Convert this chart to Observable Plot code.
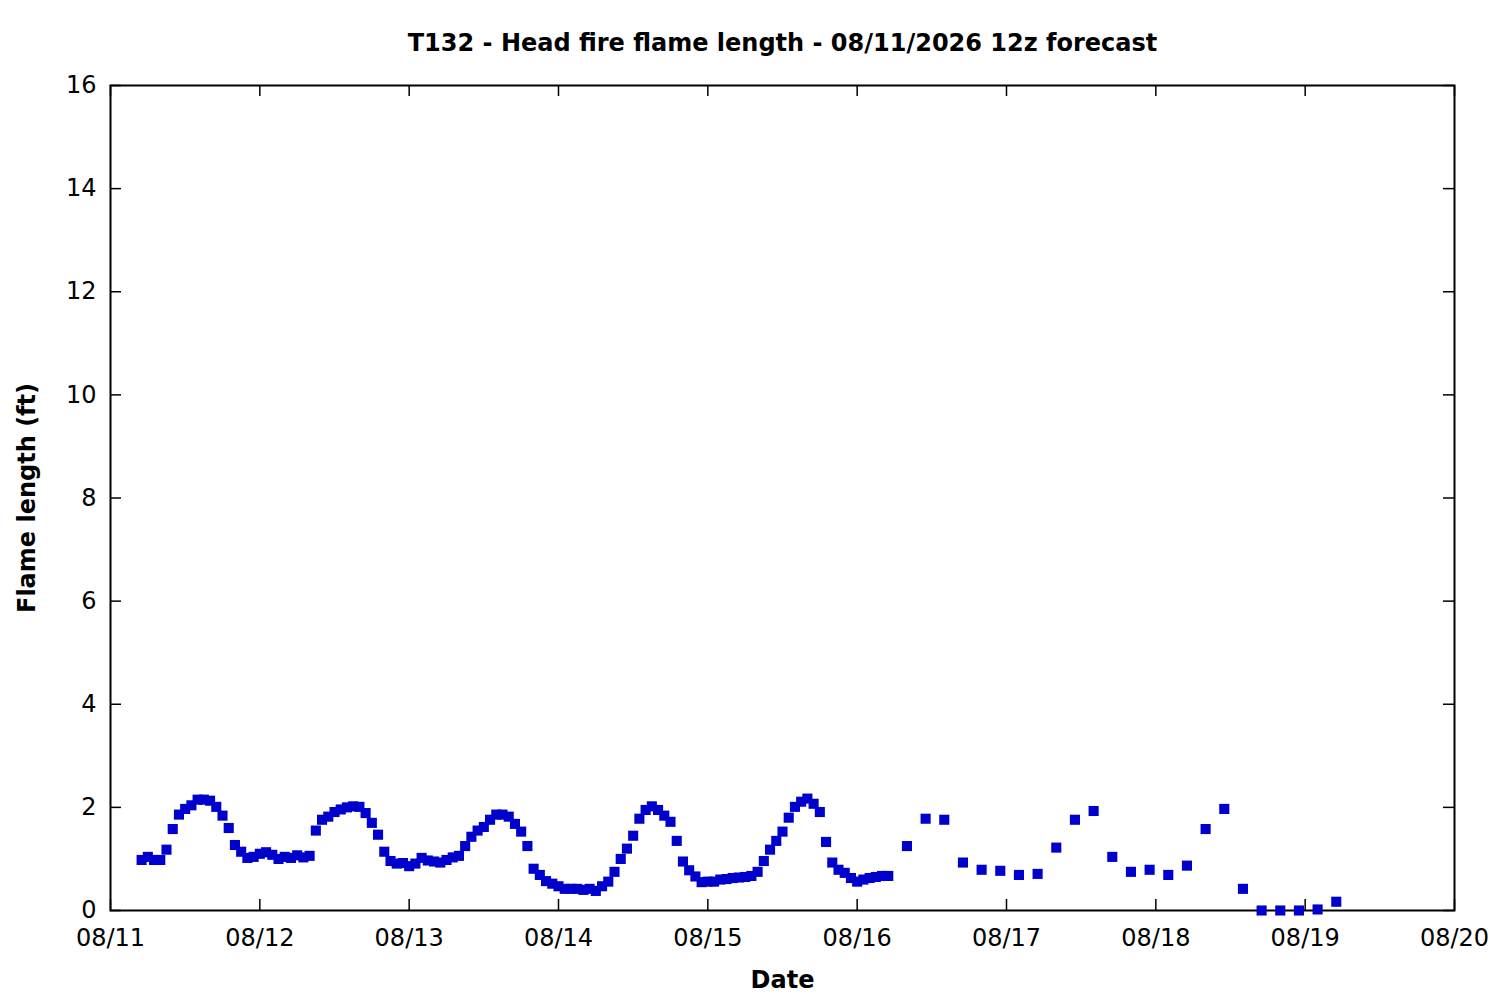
<!DOCTYPE html>
<html>
<head>
<meta charset="utf-8">
<script src="https://cdn.jsdelivr.net/npm/d3@7"></script>
<script src="https://cdn.jsdelivr.net/npm/@observablehq/plot@0.6"></script>
<style>
  html, body { margin: 0; padding: 0; background: #ffffff; }
  #chart svg { display: block; }
</style>
</head>
<body>
<div id="chart"></div>
<script>
// ---- Texts ----
const titleText = "T132 - Head fire flame length - 08/11/2026 12z forecast";
const xLabelText = "Date";
const yLabelText = "Flame length (ft)";

// ---- Time base (UTC) ----
const forecastStart = "2026-08-11T00:00:00Z";

// Hourly values, starting at hour 5 after forecastStart
const hourlyFirstHour = 5;
const hourlyValues = [
  0.98, 1.04, 0.98, 0.98, 1.18, 1.58, 1.86, 1.97, 2.04, 2.15,
  2.15, 2.13, 2.01, 1.84, 1.60, 1.27, 1.14, 1.02, 1.04, 1.10,
  1.13, 1.08, 1.00, 1.04, 1.02, 1.07, 1.03, 1.06, 1.55, 1.76,
  1.82, 1.91, 1.96, 2.00, 2.02, 2.01, 1.89, 1.70, 1.47, 1.14,
  0.96, 0.91, 0.92, 0.86, 0.91, 1.02, 0.97, 0.95, 0.93, 0.98,
  1.03, 1.06, 1.25, 1.43, 1.55, 1.62, 1.76, 1.86, 1.86, 1.82,
  1.68, 1.53, 1.25, 0.81, 0.69, 0.57, 0.52, 0.47, 0.42, 0.42,
  0.42, 0.40, 0.42, 0.38, 0.47, 0.56, 0.75, 1.00, 1.20, 1.45,
  1.78, 1.95, 2.02, 1.95, 1.84, 1.72, 1.35, 0.95, 0.78, 0.66,
  0.55, 0.56, 0.56, 0.60, 0.61, 0.63, 0.64, 0.65, 0.67, 0.75,
  0.96, 1.18, 1.35, 1.53, 1.80, 2.01, 2.11, 2.17, 2.07, 1.91,
  1.33, 0.93, 0.79, 0.73, 0.63, 0.56, 0.60, 0.63, 0.65, 0.67,
  0.67
];

// 3-hourly values, starting at hour 128 after forecastStart
const threeHourlyFirstHour = 128;
const threeHourlyValues = [
  1.25, 1.78, 1.76, 0.93, 0.79, 0.77, 0.69, 0.71,
  1.22, 1.76, 1.93, 1.04, 0.75, 0.79, 0.69, 0.87,
  1.58, 1.97, 0.42, 0.00, 0.00, 0.00, 0.02, 0.17
];

// ---- Axis ticks ----
const xTickDates = [
  "2026-08-11", "2026-08-12", "2026-08-13", "2026-08-14", "2026-08-15",
  "2026-08-16", "2026-08-17", "2026-08-18", "2026-08-19", "2026-08-20"
];
const yTickValues = [0, 2, 4, 6, 8, 10, 12, 14, 16];

// ---- Build table ----
const t0 = new Date(forecastStart).getTime();
const HOUR = 3600 * 1000;
const points = [];
hourlyValues.forEach((v, i) => points.push({ time: new Date(t0 + (hourlyFirstHour + i) * HOUR), value: v }));
threeHourlyValues.forEach((v, i) => points.push({ time: new Date(t0 + (threeHourlyFirstHour + 3 * i) * HOUR), value: v }));
const xTicks = xTickDates.map(s => new Date(s + "T00:00:00Z"));

// ---- Layout ----
const W = 1500, H = 1000;
const mL = 110, mR = 46, mT = 85, mB = 90;
const pw = W - mL - mR, ph = H - mT - mB;
const tickLen = 11;

const chart = Plot.plot({
  width: W,
  height: H,
  marginLeft: mL,
  marginRight: mR,
  marginTop: mT,
  marginBottom: mB,
  style: { fontFamily: "'DejaVu Sans', sans-serif", fontSize: "24px", color: "black", background: "white" },
  x: { type: "utc", domain: [xTicks[0], xTicks[xTicks.length - 1]] },
  y: { domain: [yTickValues[0], yTickValues[yTickValues.length - 1]] },
  marks: [
    Plot.axisX(xTicks, { anchor: "bottom", tickSize: 0, tickPadding: 18, tickFormat: d3.utcFormat("%m/%d"), fontSize: 24, fill: "black", label: null }),
    Plot.axisY(yTickValues, { anchor: "left", tickSize: 0, tickPadding: 14, tickFormat: d3.format("d"), fontSize: 24, fill: "black", label: null }),
    Plot.tickX(xTicks, { x: d => d, insetTop: ph - tickLen, stroke: "black", strokeWidth: 1.5 }),
    Plot.tickX(xTicks, { x: d => d, insetBottom: ph - tickLen, stroke: "black", strokeWidth: 1.5 }),
    Plot.tickY(yTickValues, { y: d => d, insetRight: pw - tickLen, stroke: "black", strokeWidth: 1.5 }),
    Plot.tickY(yTickValues, { y: d => d, insetLeft: pw - tickLen, stroke: "black", strokeWidth: 1.5 }),
    Plot.frame({ stroke: "black", strokeWidth: 2 }),
    Plot.dot(points, { x: "time", y: "value", symbol: "square", r: 5.7, fill: "#0000cc", stroke: "none" }),
    Plot.text([titleText], { frameAnchor: "top", dy: -42, lineAnchor: "middle", textAnchor: "middle", fontWeight: "bold", fontSize: 24, fill: "black" }),
    Plot.text([xLabelText], { frameAnchor: "bottom", dy: 70, lineAnchor: "middle", textAnchor: "middle", fontWeight: "bold", fontSize: 24, fill: "black" }),
    Plot.text([yLabelText], { frameAnchor: "left", dx: -83, rotate: -90, lineAnchor: "middle", textAnchor: "middle", fontWeight: "bold", fontSize: 24, fill: "black" })
  ]
});

document.getElementById("chart").appendChild(chart);
</script>
</body>
</html>
